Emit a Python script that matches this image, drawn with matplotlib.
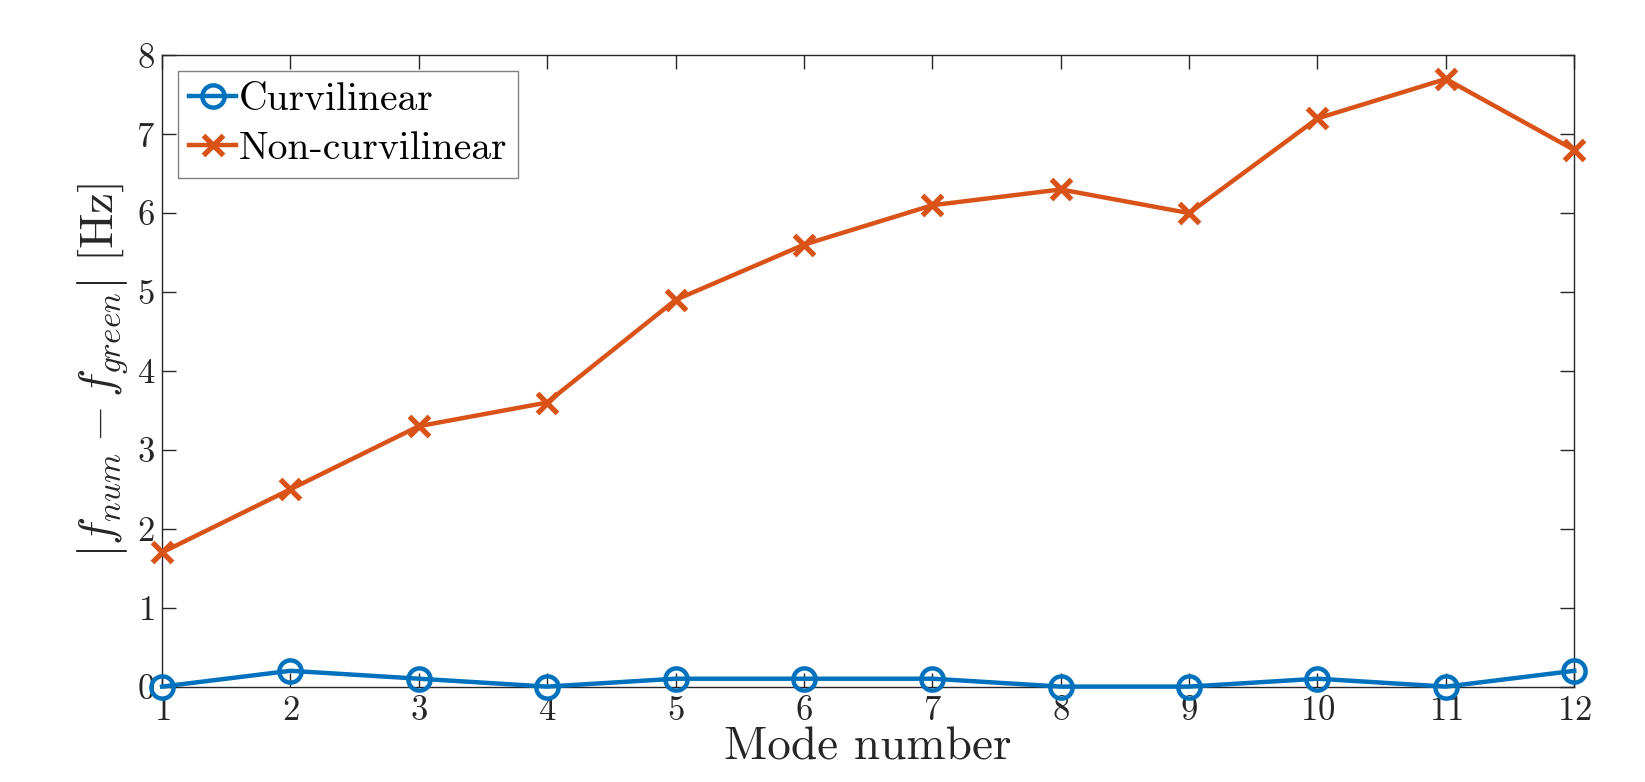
import matplotlib
matplotlib.use('Agg')
import matplotlib.pyplot as plt

modes = [1, 2, 3, 4, 5, 6, 7, 8, 9, 10, 11, 12]
curvilinear = [0.0, 0.2, 0.1, 0.0, 0.1, 0.1, 0.1, 0.0, 0.0, 0.1, 0.0, 0.2]
non_curvilinear = [1.7, 2.5, 3.3, 3.6, 4.9, 5.6, 6.1, 6.3, 6.0, 7.2, 7.7, 6.8]
yticks = [0, 1, 2, 3, 4, 5, 6, 7, 8]

plt.rcParams['font.family'] = 'cmr10'
plt.rcParams['mathtext.fontset'] = 'cm'
plt.rcParams['axes.formatter.use_mathtext'] = True

fig = plt.figure(figsize=(16.45, 7.82), dpi=100)
ax = fig.add_axes([0.0985, 0.122, 0.8585, 0.8073])

ax.plot(modes, curvilinear, color='#0072BD', lw=3.2, marker='o', ms=16,
        mfc='none', mew=3.2, label='Curvilinear', clip_on=False, zorder=3)
ax.plot(modes, non_curvilinear, color='#D95319', lw=3.2, marker='x', ms=15,
        mew=3.8, label='Non-curvilinear', clip_on=False, zorder=3)

ax.set_xlim(1, 12)
ax.set_ylim(0, 8)
ax.set_xticks(modes)
ax.set_yticks(yticks)
ax.tick_params(direction='in', length=10, width=1, colors='#262626',
               labelsize=25, top=True, right=True)
ax.tick_params(axis='x', pad=6)
ax.tick_params(axis='y', pad=5)
for s in ax.spines.values():
    s.set_color('#262626')
    s.set_linewidth(1)

ax.set_xlabel('Mode number', fontsize=34, color='#262626', labelpad=0)
ax.set_ylabel(r'$\left|f_{num} - f_{green}\right|\ [\mathrm{Hz}]$',
              fontsize=34, color='#262626', labelpad=4)

leg = ax.legend(loc='upper left', fontsize=28.5, fancybox=False, framealpha=1,
                edgecolor='#808080', borderpad=0.28, handlelength=1.2,
                handletextpad=0.05, labelspacing=0.32, borderaxespad=0.4)
leg.get_frame().set_linewidth(1)

fig.savefig('out.png', dpi=100)
plt.close(fig)
